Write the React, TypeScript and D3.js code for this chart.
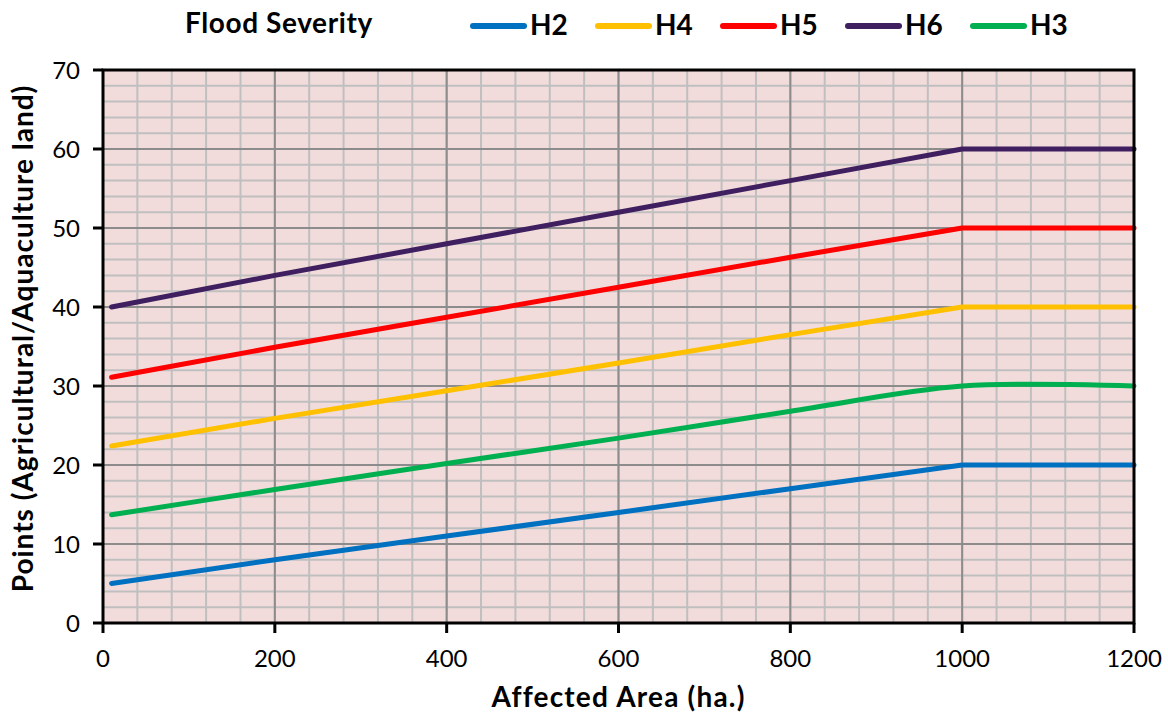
import React from "react";
import * as d3 from "d3";

// Affected area (ha.) at which each curve is sampled
const areas = [10, 200, 400, 600, 800, 1000, 1200];

// Points per flood severity class
const h2 = [5, 8, 11, 14, 17, 20, 20];
const h4 = [22.4, 25.9, 29.4, 32.9, 36.5, 40, 40];
const h5 = [31.1, 34.9, 38.7, 42.5, 46.3, 50, 50];
const h6 = [40, 44, 48, 52, 56, 60, 60];
const h3 = [13.7, 16.9, 20.2, 23.4, 26.8, 30, 30];

const seriesNames = ["H2", "H4", "H5", "H6", "H3"];
const seriesValues = [h2, h4, h5, h6, h3];
const seriesColors = ["#0070C0", "#FFC000", "#FF0000", "#3F1F5F", "#00B050"];
const smoothed = [false, false, false, false, true];

const xTicks = [0, 200, 400, 600, 800, 1000, 1200];
const yTicks = [0, 10, 20, 30, 40, 50, 60, 70];

const W = 1168;
const H = 714;
const left = 103;
const right = 1134;
const top = 70;
const bottom = 623;
const FONT = "Lato, 'Open Sans', sans-serif";

export default function App() {
  const x = d3.scaleLinear().domain([0, 1200]).range([left, right]);
  const y = d3.scaleLinear().domain([0, 70]).range([bottom, top]);

  const minorX = d3.range(0, 1201, 40);
  const minorY = d3.range(0, 71, 2);

  const lineFor = (vals: number[], smooth: boolean) =>
    d3
      .line<number>()
      .x((_, i) => x(areas[i]))
      .y((v) => y(v))
      .curve(smooth ? d3.curveCatmullRom.alpha(0.5) : d3.curveLinear)(vals) || "";

  // legend entries laid out at a fixed pitch
  const legendStart = 470;
  const legendPitch = 125;

  return (
    <svg
      width={W}
      height={H}
      style={{ position: "absolute", left: 0, top: 0, background: "#fff" }}
      fontFamily={FONT}
    >
      <rect x={left} y={top} width={right - left} height={bottom - top} fill="#F2DCDB" />

      {/* minor grid */}
      {minorX.map((v) => (
        <line key={"mx" + v} x1={x(v)} x2={x(v)} y1={top} y2={bottom} stroke="#BFBFBF" strokeWidth={2} />
      ))}
      {minorY.map((v) => (
        <line key={"my" + v} x1={left} x2={right} y1={y(v)} y2={y(v)} stroke="#BFBFBF" strokeWidth={2} />
      ))}
      {/* major grid */}
      {xTicks.map((v) => (
        <line key={"Mx" + v} x1={x(v)} x2={x(v)} y1={top} y2={bottom} stroke="#8C8C8C" strokeWidth={2} />
      ))}
      {yTicks.map((v) => (
        <line key={"My" + v} x1={left} x2={right} y1={y(v)} y2={y(v)} stroke="#8C8C8C" strokeWidth={2} />
      ))}

      {/* series */}
      {seriesValues.map((vals, i) => (
        <path
          key={seriesNames[i]}
          d={lineFor(vals, smoothed[i])}
          fill="none"
          stroke={seriesColors[i]}
          strokeWidth={5}
          strokeLinecap="round"
          strokeLinejoin="round"
        />
      ))}

      {/* frame */}
      <rect x={left} y={top} width={right - left} height={bottom - top} fill="none" stroke="#000" strokeWidth={3} />

      {/* y axis */}
      {yTicks.map((v) => (
        <g key={"yt" + v}>
          <line x1={left - 10} x2={left} y1={y(v)} y2={y(v)} stroke="#000" strokeWidth={3} />
          <text x={80} y={y(v)} dy="0.36em" textAnchor="end" fontSize={24} fill="#000">
            {v}
          </text>
        </g>
      ))}
      {/* x axis */}
      {xTicks.map((v) => (
        <g key={"xt" + v}>
          <line x1={x(v)} x2={x(v)} y1={bottom} y2={bottom + 10} stroke="#000" strokeWidth={3} />
          <text x={x(v)} y={667} textAnchor="middle" fontSize={24} fill="#000">
            {v}
          </text>
        </g>
      ))}

      <text
        x={(left + right) / 2}
        y={707}
        textAnchor="middle"
        fontSize={28}
        fontWeight="bold"
        letterSpacing={1.2}
        fill="#000"
      >
        Affected Area (ha.)
      </text>
      <text
        transform={`translate(33, ${(top + bottom) / 2 - 8}) rotate(-90)`}
        textAnchor="middle"
        fontSize={28}
        fontWeight="bold"
        letterSpacing={1}
        fill="#000"
      >
        Points (Agricultural/Aquaculture land)
      </text>

      {/* legend */}
      <text x={185} y={33} fontSize={28} fontWeight="bold" letterSpacing={0.6} fill="#000">
        Flood Severity
      </text>
      {seriesNames.map((name, i) => {
        const lx = legendStart + i * legendPitch;
        return (
          <g key={"lg" + name}>
            <line
              x1={lx + 3}
              x2={lx + 54}
              y1={26}
              y2={26}
              stroke={seriesColors[i]}
              strokeWidth={6}
              strokeLinecap="round"
            />
            <text x={lx + 60} y={35} fontSize={28} fontWeight="bold" fill="#000">
              {name}
            </text>
          </g>
        );
      })}
    </svg>
  );
}
